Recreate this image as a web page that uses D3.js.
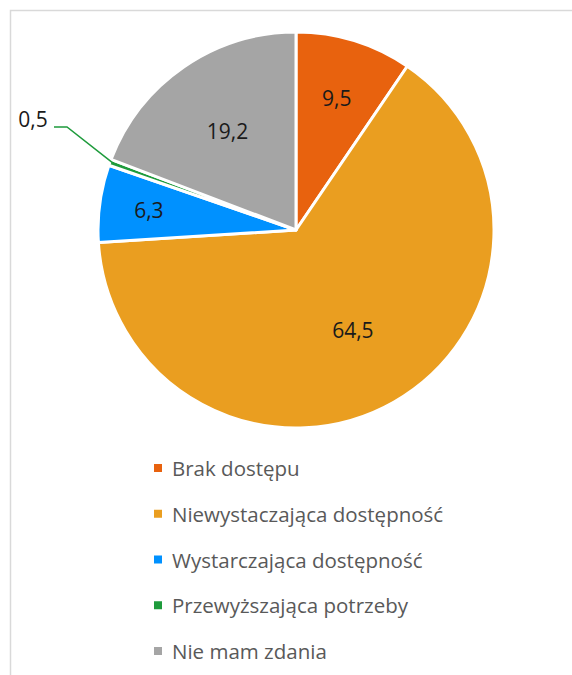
<!DOCTYPE html>
<html>
<head>
<meta charset="utf-8">
<script src="https://cdn.jsdelivr.net/npm/d3@7/dist/d3.min.js"></script>
<style>
  body { margin: 0; background: #fff; }
  svg { display: block; }
</style>
</head>
<body>
<svg id="chart" width="572" height="675"></svg>
<script>
// chart data
const categories = ["Brak dostępu", "Niewystaczająca dostępność", "Wystarczająca dostępność", "Przewyższająca potrzeby", "Nie mam zdania"]
const values = [9.5, 64.5, 6.3, 0.5, 19.2]
const labels = ["9,5", "64,5", "6,3", "0,5", "19,2"]
const colors = ["#E8620E", "#EA9E20", "#0091FF", "#1E9B3C", "#A5A5A5"]

// how far out each inside label sits (fraction of radius)
const labelRadius = [0.70, 0.58, 0.75, 1, 0.61]

const svg = d3.select("#chart")
const font = "'Open Sans', sans-serif"

// outer frame, cut off on the right and bottom like the screenshot
svg.append("rect")
  .attr("x", 10.5).attr("y", 10.5)
  .attr("width", 600).attr("height", 700)
  .attr("fill", "none")
  .attr("stroke", "#d9d9d9")
  .attr("stroke-width", 1.5)

const cx = 296, cy = 230, radius = 198

const pie = d3.pie().sort(null).value(d => d)
const arcs = pie(values)
const arc = d3.arc().innerRadius(0).outerRadius(radius)

const g = svg.append("g").attr("transform", "translate(" + cx + "," + cy + ")")

g.selectAll("path")
  .data(arcs)
  .enter()
  .append("path")
  .attr("d", arc)
  .attr("fill", (d, i) => colors[i])
  .attr("stroke", "#fff")
  .attr("stroke-width", 3)
  .attr("stroke-linejoin", "round")

arcs.forEach((d, i) => {
  if (i === 3) return
  let r = radius * labelRadius[i]
  let p = d3.arc().innerRadius(r).outerRadius(r).centroid(d)
  g.append("text")
    .attr("x", p[0]).attr("y", p[1])
    .attr("text-anchor", "middle")
    .attr("dominant-baseline", "central")
    .attr("font-family", font)
    .attr("font-size", 21)
    .attr("fill", "#1a1a1a")
    .text(labels[i])
})

// small slice: label outside with a leader line
const small = arcs[3]
const mid = (small.startAngle + small.endAngle) / 2
const edge = [Math.sin(mid) * (radius - 4), -Math.cos(mid) * (radius - 4)]
const lx = -242, ly = -103
g.append("polyline")
  .attr("points", [[lx, ly], [lx + 13, ly], edge].map(p => p.join(",")).join(" "))
  .attr("fill", "none")
  .attr("stroke", colors[3])
  .attr("stroke-width", 1.5)
g.append("text")
  .attr("x", lx - 21).attr("y", ly - 8)
  .attr("text-anchor", "middle")
  .attr("dominant-baseline", "central")
  .attr("font-family", font)
  .attr("font-size", 21)
  .attr("fill", "#1a1a1a")
  .text(labels[3])

// legend
const legendY = d3.scalePoint().domain(categories).range([468, 651])
const legend = svg.append("g")
categories.forEach((c, i) => {
  let y = legendY(c)
  legend.append("rect")
    .attr("x", 154).attr("y", y - 4)
    .attr("width", 8).attr("height", 8)
    .attr("fill", colors[i])
  legend.append("text")
    .attr("x", 172).attr("y", y)
    .attr("dominant-baseline", "central")
    .attr("font-family", font)
    .attr("font-size", 20.5)
    .attr("fill", "#595959")
    .text(c)
})
</script>
</body>
</html>
